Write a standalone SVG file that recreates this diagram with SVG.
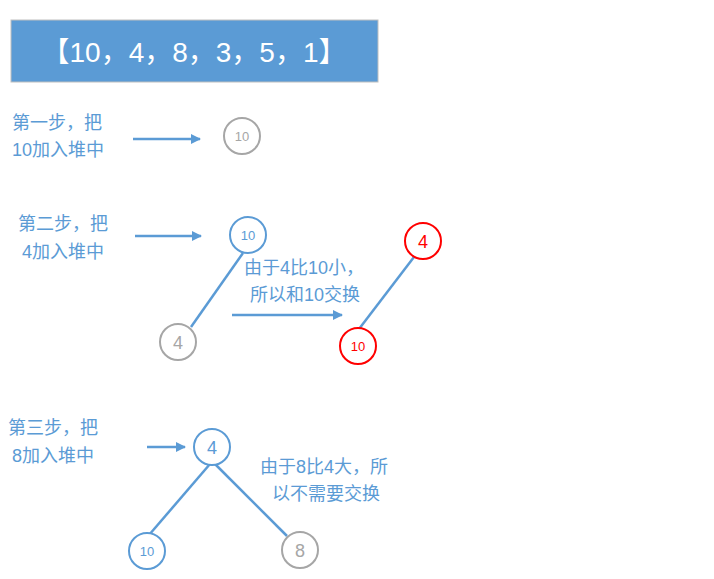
<svg xmlns="http://www.w3.org/2000/svg" width="714" height="579" viewBox="0 0 714 579">
<style>
.t{font-family:"Liberation Sans","Noto Sans CJK SC",sans-serif;fill:#5b9bd5;font-size:18px}
.c{fill:#fff;stroke-width:2}
.g{stroke:#a6a6a6}.b{stroke:#5b9bd5}.r{stroke:#f00}
.n{font-family:"Liberation Sans","Noto Sans CJK SC",sans-serif;text-anchor:middle}
.e{stroke:#5b9bd5;stroke-width:2.5;fill:none}
</style>
<defs><marker id="a" viewBox="0 0 10 10" refX="9" refY="5" markerWidth="4" markerHeight="4" orient="auto" markerUnits="strokeWidth"><path d="M0,0L10,5L0,10z" fill="#5b9bd5"/></marker></defs>
<g id="title"><rect x="11" y="20" width="367" height="62" fill="#5b9bd5" stroke="#bfbfbf"/><text x="194" y="62" text-anchor="middle" font-family="Liberation Sans,'Noto Sans CJK SC',sans-serif" font-size="28" fill="#fff">【10，4，8，3，5，1】</text></g>
<g id="connectors">
<line class="e" x1="133" y1="139" x2="200" y2="139" marker-end="url(#a)"/>
<line class="e" x1="135" y1="236" x2="201" y2="236" marker-end="url(#a)"/>
<line class="e" x1="232" y1="315" x2="342" y2="315" marker-end="url(#a)"/>
<line class="e" x1="147" y1="447" x2="185" y2="447" marker-end="url(#a)"/>
<line class="e" x1="243" y1="253" x2="191" y2="327"/>
<line class="e" x1="414" y1="257" x2="359" y2="329"/>
<line class="e" x1="210" y1="464" x2="149" y2="535"/>
<line class="e" x1="215" y1="464" x2="287" y2="536"/>
</g>
<g id="labels">
<text class="t" x="12" y="129">第一步，把</text><text class="t" x="12" y="156">10加入堆中</text>
<text class="t" x="18" y="230">第二步，把</text><text class="t" x="22" y="258">4加入堆中</text>
<text class="t" x="244" y="274">由于4比10小，</text><text class="t" x="250" y="301">所以和10交换</text>
<text class="t" x="8" y="434">第三步，把</text><text class="t" x="12" y="462">8加入堆中</text>
<text class="t" x="260" y="473">由于8比4大，所</text><text class="t" x="272" y="500">以不需要交换</text>
</g>
<g id="n1"><circle class="c g" cx="242" cy="136" r="18"/><text class="n" x="242" y="141" font-size="13" fill="#a6a6a6">10</text></g>
<g id="n2"><circle class="c b" cx="248" cy="235" r="18"/><text class="n" x="248" y="240" font-size="13" fill="#5b9bd5">10</text></g>
<g id="n3"><circle class="c g" cx="178" cy="342" r="18"/><text class="n" x="178" y="349" font-size="18" fill="#a6a6a6">4</text></g>
<g id="n4"><circle class="c r" cx="423" cy="241" r="18"/><text class="n" x="423" y="248" font-size="18" fill="#f00">4</text></g>
<g id="n5"><circle class="c r" cx="358" cy="346" r="18"/><text class="n" x="358" y="351" font-size="13" fill="#f00">10</text></g>
<g id="n6"><circle class="c b" cx="212" cy="447" r="18"/><text class="n" x="212" y="454" font-size="18" fill="#5b9bd5">4</text></g>
<g id="n7"><circle class="c b" cx="147" cy="551" r="18"/><text class="n" x="147" y="556" font-size="13" fill="#5b9bd5">10</text></g>
<g id="n8"><circle class="c g" cx="300" cy="550" r="18"/><text class="n" x="300" y="557" font-size="18" fill="#a6a6a6">8</text></g>
</svg>
